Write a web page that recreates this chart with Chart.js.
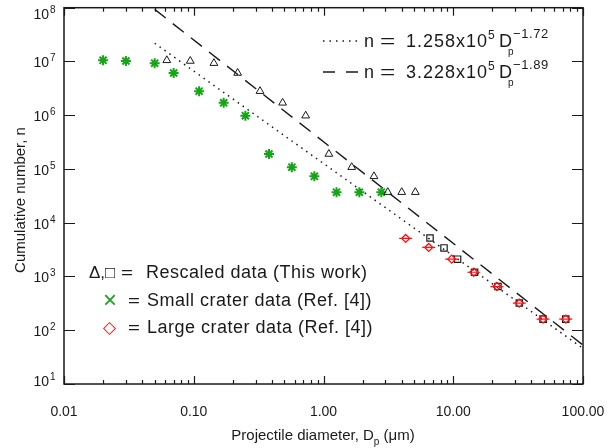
<!DOCTYPE html>
<html><head><meta charset="utf-8">
<script src="https://cdn.jsdelivr.net/npm/chart.js@4"></script>
<style>html,body{margin:0;padding:0;background:#fff}#c{display:block}</style>
</head><body>
<canvas id="c" width="616" height="448"></canvas>
<script>
// ---- data ----
const smallCraterD = [0.02, 0.03, 0.05, 0.07, 0.11, 0.17, 0.25, 0.38, 0.57, 0.85, 1.26, 1.89, 2.79];
const smallCraterN = [1.05e7, 1.02e7, 9.3e6, 6.1e6, 2.8e6, 1.7e6, 9.8e5, 1.9e5, 1.08e5, 7.3e4, 3.7e4, 3.7e4, 3.7e4];
const rescaledTriD = [0.062, 0.094, 0.143, 0.218, 0.324, 0.484, 0.729, 1.10, 1.65, 2.45, 3.13, 4.01, 5.10];
const rescaledTriN = [1.05e7, 1.02e7, 9.3e6, 6.1e6, 2.8e6, 1.7e6, 9.8e5, 1.9e5, 1.08e5, 7.3e4, 3.7e4, 3.7e4, 3.7e4];
const rescaledSqD = [6.62, 8.49, 10.8, 14.6, 22.1, 32.3, 49.2, 73.6];
const rescaledSqN = [5200, 3400, 2100, 1200, 650, 320, 161, 161];
const largeCraterD = [4.3, 6.47, 9.73, 14.4, 21.7, 32.3, 49.2, 73.6];
const largeCraterN = [5100, 3470, 2100, 1200, 650, 320, 161, 161];
const fitD = [0.05, 100];
const fitDottedN = [2.18e7, 46];   // n = 1.258x10^5 Dp^-1.72
const fitDashedN = [9.3e7, 53];    // n = 3.228x10^5 Dp^-1.89
const xTickValues = [0.01, 0.1, 1, 10, 100];
const xTickLabels = ['0.01', '0.10', '1.00', '10.00', '100.00'];
const yTickExponents = [1, 2, 3, 4, 5, 6, 7, 8];

const pts = (xs, ys) => xs.map((x, i) => ({x, y: ys[i]}));
const GREEN = '#16a516', RED = '#ff1010', INK = '#1a1a1a';
const FONT = '"Liberation Sans", Arial, sans-serif';

const decor = {
  id: 'decor',
  afterDraw(chart) {
    const ctx = chart.ctx, a = chart.chartArea;
    const xs = chart.scales.x, ys = chart.scales.y;
    ctx.save();
    // frame
    ctx.strokeStyle = INK; ctx.lineWidth = 1.5;
    ctx.strokeRect(a.left, a.top, a.right - a.left, a.bottom - a.top);
    // x ticks (bottom & top, inward)
    ctx.lineWidth = 1.2;
    ctx.beginPath();
    for (let d = -2; d <= 2; d++) {
      for (let m = 1; m <= 9; m++) {
        const v = m * Math.pow(10, d);
        if (v > 100.0001) break;
        const px = Math.round(xs.getPixelForValue(v)) + 0.5;
        const len = m === 1 ? 8 : 4;
        ctx.moveTo(px, a.bottom); ctx.lineTo(px, a.bottom - len);
        ctx.moveTo(px, a.top); ctx.lineTo(px, a.top + len);
      }
    }
    // y ticks (left & right, inward)
    yTickExponents.forEach(k => {
      const py = Math.round(ys.getPixelForValue(Math.pow(10, k))) + 0.5;
      ctx.moveTo(a.left, py); ctx.lineTo(a.left + 11, py);
      ctx.moveTo(a.right, py); ctx.lineTo(a.right - 11, py);
    });
    ctx.stroke();

    ctx.fillStyle = INK;
    ctx.textBaseline = 'alphabetic';
    // x tick labels
    ctx.font = '14px ' + FONT; ctx.textAlign = 'center';
    xTickValues.forEach((v, i) => {
      ctx.fillText(xTickLabels[i], xs.getPixelForValue(v), 416);
    });
    // y tick labels 10^k
    yTickExponents.forEach(k => {
      const py = ys.getPixelForValue(Math.pow(10, k));
      let base = py + 6;
      if (k === 8) base = 19;
      if (k === 1) base = 386;
      ctx.textAlign = 'right';
      ctx.font = '14px ' + FONT;
      ctx.fillText('10', 49, base);
      ctx.textAlign = 'left';
      ctx.font = '10px ' + FONT;
      ctx.fillText(String(k), 50, base - 6);
    });

    // axis titles
    ctx.textAlign = 'left';
    ctx.font = '15px ' + FONT;
    const t1 = 'Projectile diameter, D', t2 = ' (\u03BCm)';
    const w1 = ctx.measureText(t1).width;
    ctx.font = '10px ' + FONT; const wp = ctx.measureText('p').width;
    ctx.font = '15px ' + FONT; const w2 = ctx.measureText(t2).width;
    let x0 = 323 - (w1 + wp + w2) / 2;
    ctx.fillText(t1, x0, 440);
    ctx.font = '10px ' + FONT; ctx.fillText('p', x0 + w1, 445);
    ctx.font = '15px ' + FONT; ctx.fillText(t2, x0 + w1 + wp, 440);

    ctx.save();
    ctx.translate(25, 200); ctx.rotate(-Math.PI / 2);
    ctx.textAlign = 'center';
    ctx.fillText('Cumulative number, n', 0, 0);
    ctx.restore();

    const wideEq = (x, yb, size, sx) => {
      ctx.save();
      ctx.font = size + 'px ' + FONT;
      ctx.translate(x, yb); ctx.scale(sx, 1);
      ctx.fillText('=', 0, 0);
      ctx.restore();
    };

    // top-right fit legend
    const fitRow = (yb, dashed, coef, exp) => {
      ctx.save();
      ctx.strokeStyle = INK; ctx.lineWidth = 1.3;
      ctx.beginPath();
      if (dashed) {
        ctx.moveTo(323, yb - 6); ctx.lineTo(335, yb - 6);
        ctx.moveTo(346, yb - 6); ctx.lineTo(358, yb - 6);
      } else {
        ctx.setLineDash([1.5, 5]);
        ctx.moveTo(323, yb - 6); ctx.lineTo(358, yb - 6);
      }
      ctx.stroke();
      ctx.restore();
      ctx.textAlign = 'left';
      ctx.font = '18px ' + FONT;
      ctx.fillText('n', 364, yb);
      wideEq(380, yb, 18, 1.45);
      ctx.font = '18px ' + FONT;
      ctx.letterSpacing = '1px';
      ctx.fillText(coef + 'x10', 406, yb);
      const e = 406 + ctx.measureText(coef + 'x10').width;
      ctx.letterSpacing = '0px';
      ctx.font = '12px ' + FONT;
      ctx.fillText('5', e, yb - 8);
      ctx.font = '18px ' + FONT;
      ctx.fillText('D', 499, yb);
      const dEnd = 499 + ctx.measureText('D').width;
      ctx.font = '10px ' + FONT;
      ctx.fillText('p', dEnd - 4, yb + 8);
      ctx.font = '13px ' + FONT;
      ctx.letterSpacing = '0.6px';
      ctx.fillText(exp, dEnd + 1, yb - 9);
      ctx.letterSpacing = '0px';
    };
    fitRow(47, false, '1.258', '\u22121.72');
    fitRow(78, true, '3.228', '\u22121.89');

    // bottom-left data legend
    ctx.fillStyle = INK;
    ctx.font = '17px ' + FONT;
    ctx.fillText('\u0394,\u25A1', 89, 278);
    wideEq(121, 278, 17, 1.2);
    ctx.font = '18px ' + FONT;
    ctx.letterSpacing = '0.5px';
    ctx.fillText('Rescaled data (This work)', 146, 278);
    ctx.letterSpacing = '0px';
    ctx.fillStyle = GREEN; ctx.font = '24px ' + FONT;
    ctx.fillText('\u00D7', 103, 308);
    ctx.fillStyle = INK;
    wideEq(128, 306, 17, 1.2);
    ctx.font = '18px ' + FONT;
    ctx.letterSpacing = '0.5px';
    ctx.fillText('Small crater data (Ref. [4])', 147, 306);
    ctx.letterSpacing = '0px';
    ctx.fillStyle = RED; ctx.font = '17px ' + FONT;
    ctx.fillText('\u25C7', 103, 333);
    ctx.fillStyle = INK;
    wideEq(128, 333, 17, 1.2);
    ctx.font = '18px ' + FONT;
    ctx.letterSpacing = '0.5px';
    ctx.fillText('Large crater data (Ref. [4])', 147, 333);
    ctx.letterSpacing = '0px';
    ctx.restore();
  }
};

new Chart(document.getElementById('c'), {
  type: 'scatter',
  data: {
    datasets: [
      { label: 'dotted fit', data: pts(fitD, fitDottedN), showLine: true, pointRadius: 0,
        borderColor: INK, borderWidth: 1.5, borderDash: [1.5, 4.5], order: 10 },
      { label: 'dashed fit', data: pts(fitD, fitDashedN), showLine: true, pointRadius: 0,
        borderColor: INK, borderWidth: 1.4, borderDash: [14, 9], order: 9 },
      { label: 'small crater', data: pts(smallCraterD, smallCraterN), pointStyle: 'star',
        pointRadius: 5, borderColor: GREEN, backgroundColor: GREEN, borderWidth: 2, order: 5 },
      { label: 'rescaled tri', data: pts(rescaledTriD, rescaledTriN), pointStyle: 'triangle',
        pointRadius: 4.5, borderColor: INK, backgroundColor: 'rgba(0,0,0,0)', borderWidth: 1, order: 4 },
      { label: 'rescaled sq', data: pts(rescaledSqD, rescaledSqN), pointStyle: 'rect',
        pointRadius: 4.5, borderColor: INK, backgroundColor: 'rgba(0,0,0,0)', borderWidth: 1.2, order: 3 },
      { label: 'large crater', data: pts(largeCraterD, largeCraterN), pointStyle: 'rectRot',
        pointRadius: 4, borderColor: RED, backgroundColor: 'rgba(0,0,0,0)', borderWidth: 1.3, order: 2 },
      { label: 'large crater bar', data: pts(largeCraterD, largeCraterN), pointStyle: 'line',
        pointRadius: 6.5, borderColor: RED, borderWidth: 1.2, order: 1 }
    ]
  },
  options: {
    responsive: false,
    animation: false,
    events: [],
    layout: { padding: { left: 64, right: 33, top: 5, bottom: 64 } },
    plugins: { legend: { display: false }, tooltip: { enabled: false }, title: { display: false } },
    scales: {
      x: { type: 'logarithmic', min: 0.01, max: 100, display: false },
      y: { type: 'logarithmic', min: 10, max: 1e8, display: false }
    }
  },
  plugins: [decor]
});
</script>
</body></html>
